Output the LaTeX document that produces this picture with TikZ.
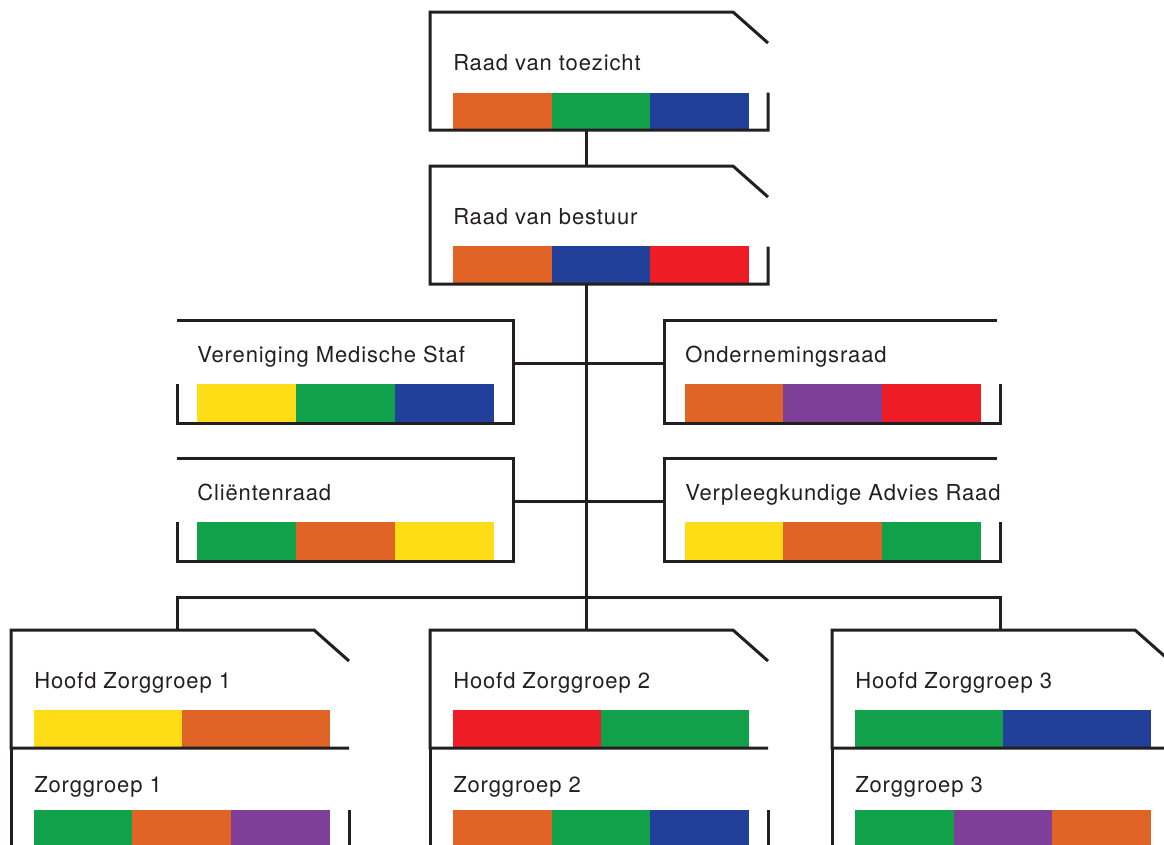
\documentclass[tikz,border=0pt]{standalone}
\usepackage{fontspec}
\setmainfont{TeX Gyre Heros}[LetterSpace=4]
\definecolor{ink}{RGB}{35,31,32}
\definecolor{vzorange}{RGB}{223,100,38}
\definecolor{vzgreen}{RGB}{16,161,74}
\definecolor{vzblue}{RGB}{34,64,154}
\definecolor{vzred}{RGB}{238,29,37}
\definecolor{vzyellow}{RGB}{254,221,23}
\definecolor{vzpurple}{RGB}{125,63,152}
\tikzset{
  frame/.style={inner sep=0pt, outer sep=0pt, draw=none},
  link/.style={line width=2.25pt, color=ink},
  boxtext/.style={anchor=base west, inner sep=0pt, text=ink, font=\fontsize{16.5}{19.8}\selectfont},
}
\begin{document}
\begin{tikzpicture}[x=0.75pt,y=0.75pt,yscale=-1,xscale=1]
\useasboundingbox (0,0) rectangle (1164,844);

%Frames
\node[frame, minimum width=253.5pt, minimum height=88.5pt] (toezichtframe) at (599,71) {};
\node[frame, minimum width=253.5pt, minimum height=88.5pt] (bestuurframe) at (599,225) {};
\node[frame, minimum width=252pt, minimum height=77.25pt] (medischframe) at (345,371.5) {};
\node[frame, minimum width=252pt, minimum height=77.25pt] (ondernemingframe) at (832,371.5) {};
\node[frame, minimum width=252pt, minimum height=77.25pt] (clientframe) at (345,509.5) {};
\node[frame, minimum width=252pt, minimum height=77.25pt] (verpleegframe) at (832,509.5) {};
\node[frame, minimum width=253.5pt, minimum height=88.5pt] (hoofd1frame) at (180,689) {};
\node[frame, minimum width=253.5pt, minimum height=88.5pt] (hoofd2frame) at (599,689) {};
\node[frame, minimum width=253.5pt, minimum height=88.5pt] (hoofd3frame) at (1001,689) {};
\node[frame, minimum width=253.5pt, minimum height=88.5pt] (groep1frame) at (180,807) {};
\node[frame, minimum width=253.5pt, minimum height=88.5pt] (groep2frame) at (599,807) {};
\node[frame, minimum width=253.5pt, minimum height=88.5pt] (groep3frame) at (1001,807) {};
\coordinate (split) at (586,597);

%Colour bars
\fill[vzorange] (453,93) rectangle (552,130);
\fill[vzgreen] (552,93) rectangle (650,130);
\fill[vzblue] (650,93) rectangle (749,130);

\fill[vzorange] (453,246) rectangle (552,284);
\fill[vzblue] (552,246) rectangle (650,284);
\fill[vzred] (650,246) rectangle (749,284);

\fill[vzyellow] (197,384) rectangle (296,423);
\fill[vzgreen] (296,384) rectangle (395,423);
\fill[vzblue] (395,384) rectangle (494,423);

\fill[vzorange] (685,384) rectangle (783,423);
\fill[vzpurple] (783,384) rectangle (882,423);
\fill[vzred] (882,384) rectangle (981,423);

\fill[vzgreen] (197,522) rectangle (296,561);
\fill[vzorange] (296,522) rectangle (395,561);
\fill[vzyellow] (395,522) rectangle (494,561);

\fill[vzyellow] (685,522) rectangle (783,561);
\fill[vzorange] (783,522) rectangle (882,561);
\fill[vzgreen] (882,522) rectangle (981,561);

\fill[vzyellow] (34,710) rectangle (182,748);
\fill[vzorange] (182,710) rectangle (330,748);
\fill[vzred] (453,710) rectangle (601,748);
\fill[vzgreen] (601,710) rectangle (749,748);
\fill[vzgreen] (855,710) rectangle (1003,748);
\fill[vzblue] (1003,710) rectangle (1151,748);

\fill[vzgreen] (34,810) rectangle (132,850);
\fill[vzorange] (132,810) rectangle (231,850);
\fill[vzpurple] (231,810) rectangle (330,850);
\fill[vzorange] (453,810) rectangle (552,850);
\fill[vzgreen] (552,810) rectangle (650,850);
\fill[vzblue] (650,810) rectangle (749,850);
\fill[vzgreen] (855,810) rectangle (954,850);
\fill[vzpurple] (954,810) rectangle (1052,850);
\fill[vzorange] (1052,810) rectangle (1151,850);

%Outlines (yscale=-1, so a positive yshift goes down)
\foreach \f in {toezichtframe,bestuurframe}
  \draw[link] ([yshift=60.5pt]\f.north east) -- (\f.south east) -- (\f.south west) -- (\f.north west) -- ([xshift=-26.25pt]\f.north east) -- ([yshift=23.25pt]\f.north east);
\foreach \f in {hoofd1frame,hoofd2frame,hoofd3frame}
  \draw[link] (\f.south east) -- (\f.south west) -- (\f.north west) -- ([xshift=-26.25pt]\f.north east) -- ([yshift=23.25pt]\f.north east);
\foreach \f in {medischframe,clientframe}
  \draw[link] (\f.north west) -- (\f.north east) -- (\f.south east) -- (\f.south west) -- ([yshift=48pt]\f.north west);
\foreach \f in {ondernemingframe,verpleegframe}
  \draw[link] ([xshift=-2.25pt]\f.north east) -- (\f.north west) -- (\f.south west) -- (\f.south east) -- ([yshift=48pt]\f.north east);
\foreach \f in {groep1frame,groep2frame,groep3frame}{
  \draw[link] (\f.north west) -- (\f.south west);
  \draw[link] ([yshift=46.5pt]\f.north east) -- (\f.south east);
}

%Straight Lines
\draw[link] (toezichtframe.south -| split) -- (bestuurframe.north -| split);
\draw[link] (bestuurframe.south -| split) -- (split |- hoofd2frame.north);
\draw[link] ([yshift=32.25pt]medischframe.north east) -- ([yshift=32.25pt]ondernemingframe.north west);
\draw[link] ([yshift=32.25pt]clientframe.north east) -- ([yshift=32.25pt]verpleegframe.north west);
\draw[link] (medischframe.west |- hoofd1frame.north) -- (medischframe.west |- split) -- (ondernemingframe.east |- split) -- (ondernemingframe.east |- hoofd3frame.north);

% Text Node
\node[boxtext] (toezicht) at (453,70) {Raad van toezicht};
\node[boxtext] (bestuur) at (453,224) {Raad van bestuur};
\node[boxtext] (medisch) at (197,362) {Vereniging Medische Staf};
\node[boxtext] (onderneming) at (685,362) {Ondernemingsraad};
\node[boxtext] (client) at (197,500) {Cliëntenraad};
\node[boxtext] (verpleeg) at (685,500) {Verpleegkundige Advies Raad};
\node[boxtext] (hoofd1) at (34,688) {Hoofd Zorggroep 1};
\node[boxtext] (hoofd2) at (453,688) {Hoofd Zorggroep 2};
\node[boxtext] (hoofd3) at (855,688) {Hoofd Zorggroep 3};
\node[boxtext] (groep1) at (34,792) {Zorggroep 1};
\node[boxtext] (groep2) at (453,792) {Zorggroep 2};
\node[boxtext] (groep3) at (855,792) {Zorggroep 3};

\end{tikzpicture}
\end{document}
